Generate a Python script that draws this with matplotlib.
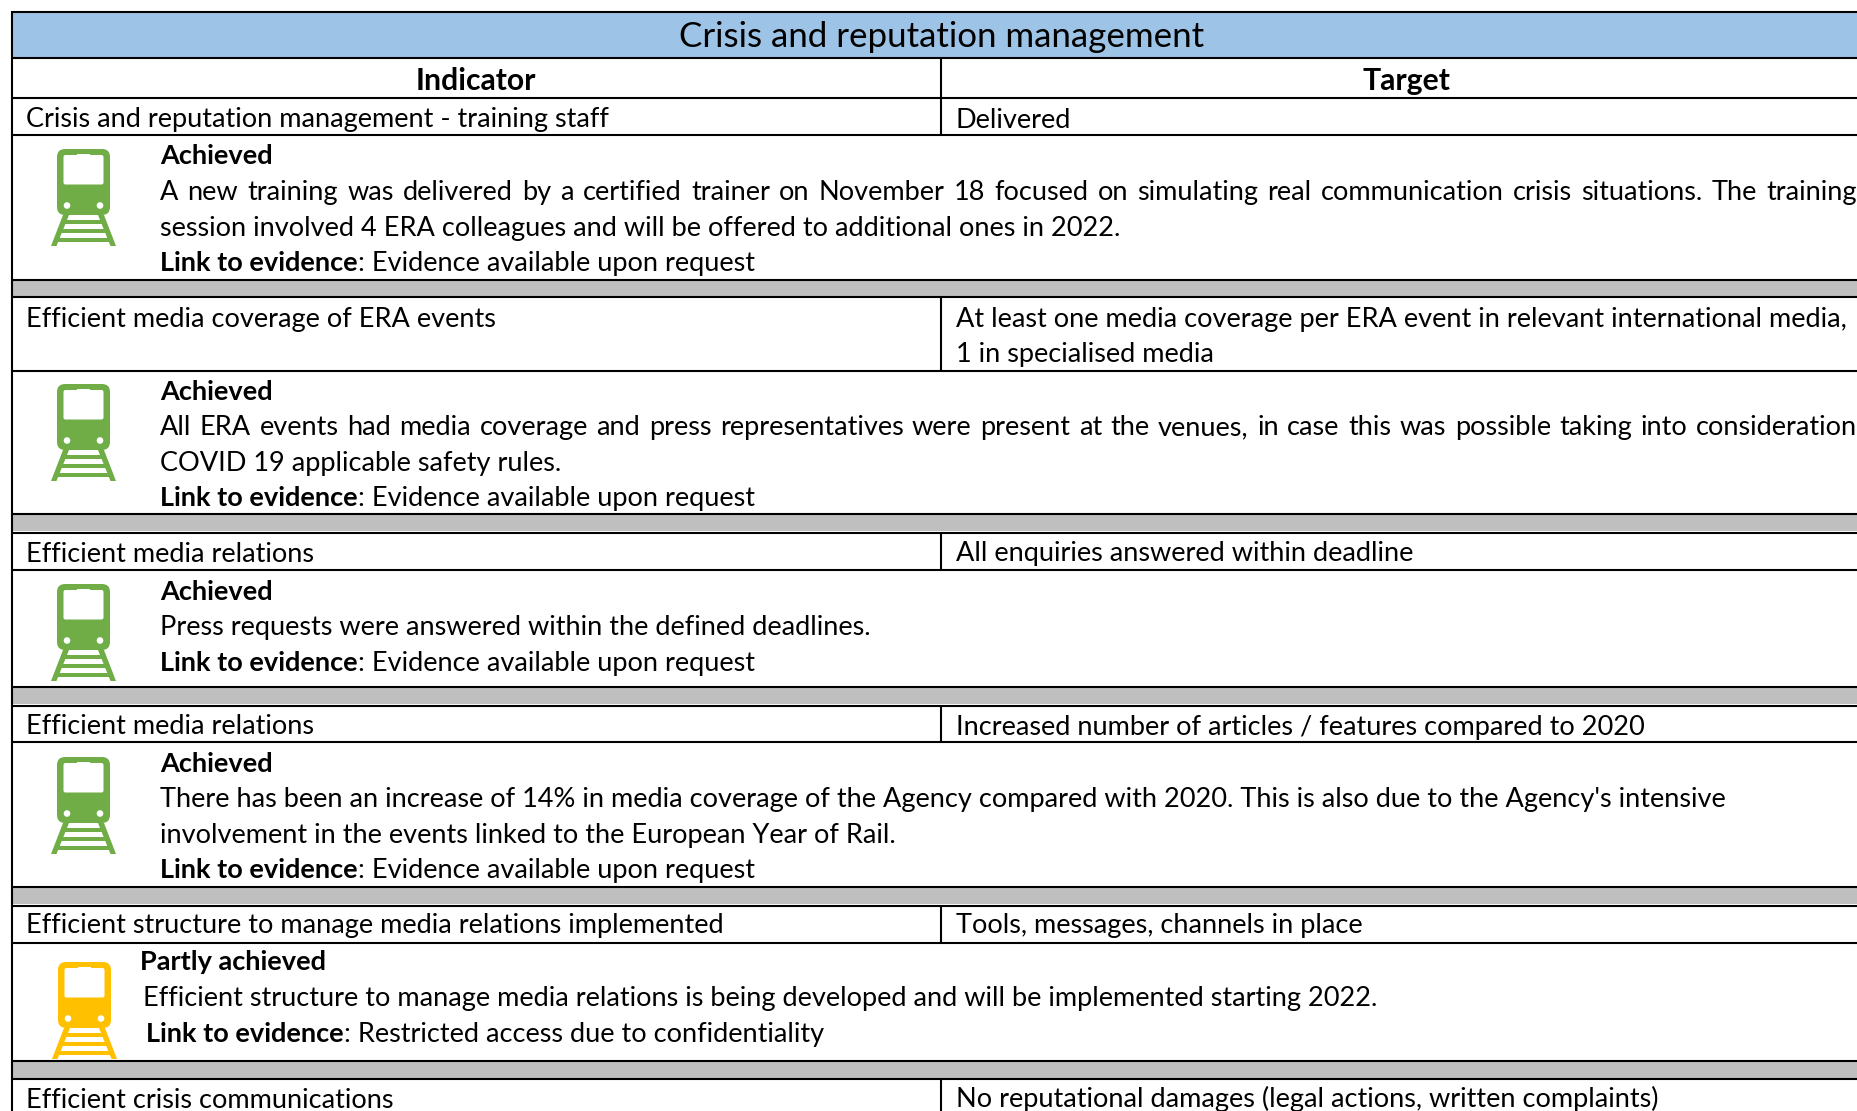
import matplotlib
matplotlib.use('Agg')
import matplotlib.pyplot as plt
from matplotlib.patches import FancyBboxPatch, Polygon, Circle, Rectangle

plt.rcParams['font.family'] = ['Lato', 'DejaVu Sans']

# table content
title = 'Crisis and reputation management'
col_heads = ['Indicator', 'Target']

indicators = [
    ['Crisis and reputation management - training staff'],
    ['Efficient media coverage of ERA events'],
    ['Efficient media relations'],
    ['Efficient media relations'],
    ['Efficient structure to manage media relations implemented'],
    ['Efficient crisis communications'],
]
targets = [
    ['Delivered'],
    ['At least one media coverage per ERA event in relevant international media,', '1 in specialised media'],
    ['All enquiries answered within deadline'],
    ['Increased number of articles / features compared to 2020'],
    ['Tools, messages, channels in place'],
    ['No reputational damages (legal actions, written complaints)'],
]
status = ['Achieved', 'Achieved', 'Achieved', 'Achieved', 'Partly achieved']
comments = [
    ['A new training was delivered by a certified trainer on November 18 focused on simulating real communication crisis situations. The training',
     'session involved 4 ERA colleagues and will be offered to additional ones in 2022.'],
    ['All ERA events had media coverage and press representatives were present at the venues, in case this was possible taking into consideration',
     'COVID 19 applicable safety rules.'],
    ['Press requests were answered within the defined deadlines.'],
    ["There has been an increase of 14% in media coverage of the Agency compared with 2020. This is also due to the Agency's intensive",
     'involvement in the events linked to the European Year of Rail.'],
    ['Efficient structure to manage media relations is being developed and will be implemented starting 2022.'],
]
evidence = ['Evidence available upon request', 'Evidence available upon request',
            'Evidence available upon request', 'Evidence available upon request',
            'Restricted access due to confidentiality']
justified = [True, True, False, False, False]

# row geometry in pixels
W, H = 1858, 1111
SPLIT = 941
rules = [11.7, 57.7, 97.7, 134.7, 279.7, 296.7, 370.7, 513.7, 532.7, 569.7, 686.7, 705.7,
         741.7, 886.7, 905.7, 942.7, 1060.7, 1078.7]
split_spans = [(57.7, 134.7), (296.7, 370.7), (532.7, 569.7), (705.7, 741.7), (905.7, 942.7), (1078.7, H)]
gray_tops = [279.7, 513.7, 686.7, 886.7, 1060.7]
GRAY_H = 17
row_base = [127.5, 326.5, 561.5, 734.5, 933.5, 1107.5]
detail_base = [164.5, 399.5, 599.5, 771.5, 970.5]
icon_top = [149, 384, 584, 757, 962]
FS = 19.5
LEAD = 35.6

GREEN = '#70AD47'
YELLOW = '#FFC000'

fig = plt.figure(figsize=(W / 100, H / 100), dpi=100)
ax = fig.add_axes([0, 0, 1, 1])
ax.set_xlim(0, W)
ax.set_ylim(H, 0)
ax.axis('off')
renderer = fig.canvas.get_renderer()


def put(x, y, s, **kw):
    return ax.text(x, y, s, fontsize=kw.pop('fontsize', FS), va='baseline', color='black', **kw)


def text_width(t):
    return t.get_window_extent(renderer).width


def put_justified(x, y, s, right):
    words = s.split(' ')
    arts = [put(x, y, w) for w in words]
    widths = [text_width(a) for a in arts]
    gap = (right - x - sum(widths)) / (len(words) - 1)
    cur = x
    for a, w in zip(arts, widths):
        a.set_x(cur)
        cur += w + gap


def train(x, y, color):
    # x, y is top-left of the body
    ax.add_patch(FancyBboxPatch((x, y), 53, 66, boxstyle='round,pad=0,rounding_size=8',
                                fc=color, ec='none'))
    ax.add_patch(FancyBboxPatch((x + 6.5, y + 6), 40, 29.5, boxstyle='round,pad=0,rounding_size=2',
                                fc='white', ec='none'))
    ax.add_patch(Rectangle((x + 20, y + 4.5), 13, 3, fc='white', ec='none'))
    for dx in (10, 43):
        ax.add_patch(Circle((x + dx, y + 56.5), 3.3, fc='white', ec='none'))
    ax.add_patch(Polygon([(x + 6, y + 66), (x + 12, y + 66), (x - 0.5, y + 97), (x - 6, y + 97)], fc=color, ec='none'))
    ax.add_patch(Polygon([(x + 41, y + 66), (x + 47, y + 66), (x + 59, y + 97), (x + 53.5, y + 97)], fc=color, ec='none'))
    for ty in (70.5, 79.5, 88.5):
        inset = 8 - 12 * (ty - 66) / 31
        ax.add_patch(Rectangle((x + inset, y + ty), 53 - 2 * inset, 4.3, fc=color, ec='none'))


# background bands
ax.add_patch(Rectangle((12, 12), W - 12, 46, fc='#9DC3E6', ec='none'))
for y in gray_tops:
    ax.add_patch(Rectangle((12, y), W - 12, GRAY_H, fc='#BFBFBF', ec='none'))

# rules
for y in rules:
    ax.plot([12, W], [y, y], color='black', lw=1.5, solid_capstyle='butt', zorder=3)
ax.plot([12, 12], [11, H], color='black', lw=1.5, solid_capstyle='butt', zorder=3)
for y0, y1 in split_spans:
    ax.plot([SPLIT, SPLIT], [y0, y1], color='black', lw=1.5, solid_capstyle='butt', zorder=3)

# header
put(942, 47, title, fontsize=25.1, ha='center')
put(476, 90, col_heads[0], fontsize=21.7, ha='center', fontweight='bold')
put(1406, 90, col_heads[1], fontsize=21.7, ha='center', fontweight='bold')

# indicator / target rows
for base, ind, tgt in zip(row_base, indicators, targets):
    for i, s in enumerate(ind):
        put(26, base + i * LEAD, s)
    for i, s in enumerate(tgt):
        put(956, base + i * LEAD, s)

# detail blocks
for i, y in enumerate(detail_base):
    partly = status[i].startswith('Partly')
    x_head = 140 if partly else 160
    x_body = 143 if partly else 160
    x_link = 146 if partly else 160
    train(58 if partly else 57, icon_top[i], YELLOW if partly else GREEN)
    put(x_head, y, status[i], fontweight='bold')
    for j, s in enumerate(comments[i]):
        y += LEAD
        if justified[i] and j == 0:
            put_justified(x_body, y, s, 1857)
        else:
            put(x_body, y, s)
    y += LEAD
    t = put(x_link, y, 'Link to evidence', fontweight='bold')
    put(x_link + text_width(t), y, ': ' + evidence[i])

fig.savefig('out.png', dpi=100)
